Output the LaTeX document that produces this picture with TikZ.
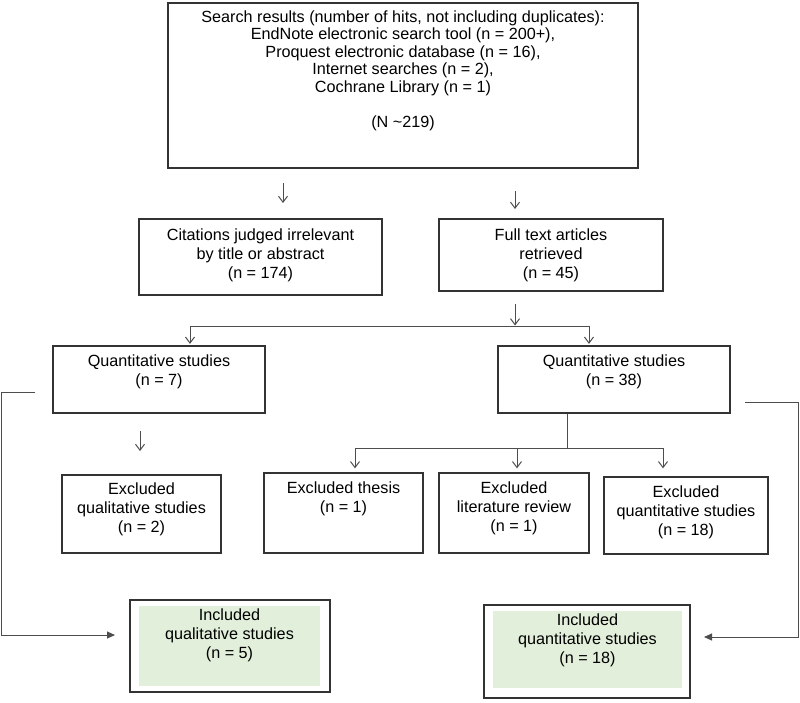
\documentclass[tikz,border=0pt]{standalone}
\usepackage{fontspec}
\setmainfont{Liberation Sans}
\usetikzlibrary{arrows.meta}
\definecolor{boxline}{HTML}{333333}
\definecolor{connline}{HTML}{4D4D4D}
\definecolor{incfill}{HTML}{E2EFDA}
\begin{document}
\begin{tikzpicture}[x=1pt,y=-1pt,
  box/.style={draw=boxline, line width=1.3pt, inner sep=0pt},
  greenbox/.style={fill=incfill, draw=none, inner sep=0pt},
  txt/.style={align=center, font=\fontsize{16.2}{19}\selectfont, inner sep=0pt},
  toptxt/.style={align=center, font=\fontsize{16.2}{17.5}\selectfont, inner sep=0pt},
  conn/.style={draw=connline, line width=1pt},
  varrow/.style={conn, -{Straight Barb[length=6pt,width=9pt]}},
  farrow/.style={conn, -{Triangle[length=8pt,width=7pt]}}]
\useasboundingbox (0,0) rectangle (800,702);

% boxes
\node[box, minimum width=470pt, minimum height=165pt] (top) at (403,85.5) {};
\node[toptxt] (toptext) at (403,70.5) {Search results (number of hits, not including duplicates):\\
EndNote electronic search tool (n = 200+),\\
Proquest electronic database (n = 16),\\
Internet searches (n = 2),\\
Cochrane Library (n = 1)\\[17.5pt]
(N \textasciitilde219)};

\node[box, minimum width=243pt, minimum height=76pt] (cit) at (260.5,257) {};
\node[txt] (cittext) at (260.5,255) {Citations judged irrelevant\\by title or abstract\\(n = 174)};

\node[box, minimum width=224pt, minimum height=72pt] (full) at (551,255) {};
\node[txt] (fulltext) at (551,255) {Full text articles\\retrieved\\(n = 45)};

\node[box, minimum width=212pt, minimum height=67pt] (qa) at (159,379.5) {};
\node[txt] (qatext) at (159,372) {Quantitative studies\\(n = 7)};

\node[box, minimum width=232pt, minimum height=67pt] (qb) at (614,379.5) {};
\node[txt] (qbtext) at (614,372) {Quantitative studies\\(n = 38)};

\node[box, minimum width=159pt, minimum height=78pt] (exq) at (141.5,514) {};
\node[txt] (exqtext) at (141.5,509.5) {Excluded\\qualitative studies\\(n = 2)};

\node[box, minimum width=159pt, minimum height=80pt] (ext) at (343.5,513) {};
\node[txt] (exttext) at (343.5,499) {Excluded thesis\\(n = 1)};

\node[box, minimum width=150pt, minimum height=80pt] (exl) at (514,513) {};
\node[txt] (exltext) at (514,508.5) {Excluded\\literature review\\(n = 1)};

\node[box, minimum width=164pt, minimum height=77pt] (exn) at (686,515.5) {};
\node[txt] (exntext) at (686,512.5) {Excluded\\quantitative studies\\(n = 18)};

\node[box, minimum width=200pt, minimum height=92pt] (incq) at (230,646) {};
\node[greenbox, minimum width=181pt, minimum height=80pt] (incqfill) at (229.5,646) {};
\node[txt] (incqtext) at (229.5,635.5) {Included\\qualitative studies\\(n = 5)};

\node[box, minimum width=206pt, minimum height=93pt] (incn) at (587,651.5) {};
\node[greenbox, minimum width=189pt, minimum height=77pt] (incnfill) at (587.5,649.5) {};
\node[txt] (incntext) at (587.5,640) {Included\\quantitative studies\\(n = 18)};

% free ends
\coordinate (a1s) at (283,183);
\coordinate (a1e) at (283,203);
\coordinate (a2s) at (515,191);
\coordinate (a2e) at (515,209);
\coordinate (a3s) at (515,304);
\coordinate (a3e) at (515,325.5);
\coordinate (br1) at (190,326);
\coordinate (br2) at (589,326);
\coordinate (a4s) at (140,431);
\coordinate (a4e) at (140,451);
\coordinate (qbdown) at (567,448);
\coordinate (ex1) at (355,448);
\coordinate (ex2) at (517,448);
\coordinate (ex3) at (663,448);
\coordinate (lbs) at (35,392);
\coordinate (lbc1) at (1,392);
\coordinate (lbc2) at (1,635);
\coordinate (lbe) at (115,635);
\coordinate (rbs) at (745,402);
\coordinate (rbc1) at (798,402);
\coordinate (rbc2) at (798,637);
\coordinate (rbe) at (704,637);

% connectors
\draw[varrow] (a1s) -- (a1e);
\draw[varrow] (a2s) -- (a2e);
\draw[varrow] (a3s) -- (a3e);
\draw[conn] (br1) -- (br2);
\draw[varrow] (br1) -- ([yshift=1.5pt]br1 |- qa.north);
\draw[varrow] (br2) -- ([yshift=1.5pt]br2 |- qb.north);
\draw[varrow] (a4s) -- (a4e);
\draw[conn] (qbdown |- qb.south) -- (qbdown);
\draw[conn] (ex1) -- (ex3);
\draw[varrow] (ex1) -- ([yshift=4pt]ex1 |- ext.north);
\draw[varrow] (ex2) -- ([yshift=4pt]ex2 |- exl.north);
\draw[varrow] (ex3) -- ([yshift=8pt]ex3 |- exn.north);
\draw[farrow] (lbs) -- (lbc1) -- (lbc2) -- (lbe);
\draw[farrow] (rbs) -- (rbc1) -- (rbc2) -- (rbe);
\end{tikzpicture}
\end{document}
